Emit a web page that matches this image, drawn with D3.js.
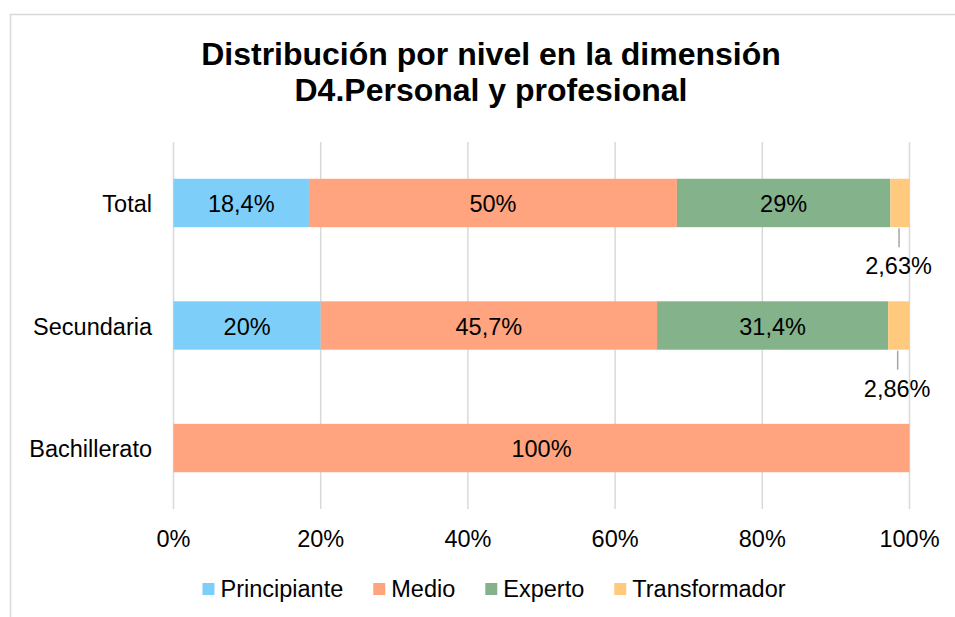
<!DOCTYPE html>
<html>
<head>
<meta charset="utf-8">
<script src="https://cdn.jsdelivr.net/npm/d3@7"></script>
<style>
  body { margin: 0; background: #fff; }
  svg { display: block; font-family: "Liberation Sans", Arial, sans-serif; }
</style>
</head>
<body>
<svg width="955" height="617"></svg>
<script>
const categories = ['Total', 'Secundaria', 'Bachillerato'];
const levels = ['Principiante', 'Medio', 'Experto', 'Transformador'];
const principiante = [18.4, 20, 0];
const medio = [50, 45.7, 100];
const experto = [29, 31.4, 0];
const transformador = [2.63, 2.86, 0];
const valueLabels = [
  ['18,4%', '50%', '29%', '2,63%'],
  ['20%', '45,7%', '31,4%', '2,86%'],
  ['', '100%', '', '']
];
const ticks = [0, 20, 40, 60, 80, 100];
const colors = ['#7dcff9', '#ffa47e', '#84b28b', '#ffca7e'];
const fs = 23.5;

const svg = d3.select('svg');

// chart frame (runs off the right and bottom edge in the reference)
svg.append('rect')
  .attr('x', 10.5).attr('y', 14.5)
  .attr('width', 1000).attr('height', 700)
  .attr('fill', '#fff')
  .attr('stroke', '#d9d9d9')
  .attr('stroke-width', 1.5);

svg.append('text')
  .attr('x', 491).attr('y', 65)
  .attr('text-anchor', 'middle')
  .attr('font-size', 32).attr('font-weight', 'bold')
  .text('Distribución por nivel en la dimensión');
svg.append('text')
  .attr('x', 491).attr('y', 101)
  .attr('text-anchor', 'middle')
  .attr('font-size', 32).attr('font-weight', 'bold')
  .text('D4.Personal y profesional');

const x = d3.scaleLinear().domain([0, 100]).range([173.5, 909.5]);
const y = d3.scaleBand().domain(categories).range([142, 509]).paddingInner(0.605).paddingOuter(0.3);

svg.append('g')
  .selectAll('line')
  .data(ticks)
  .join('line')
  .attr('x1', d => x(d)).attr('x2', d => x(d))
  .attr('y1', 142).attr('y2', 509)
  .attr('stroke', '#d9d9d9')
  .attr('stroke-width', 1.5);

const rows = categories.map((c, i) => {
  const vals = [principiante[i], medio[i], experto[i], transformador[i]];
  let acc = 0;
  return vals.map((v, j) => {
    const s = { cat: c, level: j, x0: acc, x1: acc + v, label: valueLabels[i][j] };
    acc += v;
    return s;
  });
});
const segs = rows.flat().filter(d => d.x1 > d.x0);

svg.append('g')
  .selectAll('rect')
  .data(segs)
  .join('rect')
  .attr('x', d => x(d.x0))
  .attr('y', d => y(d.cat))
  .attr('width', d => x(Math.min(d.x1, 100)) - x(d.x0))
  .attr('height', y.bandwidth())
  .attr('fill', d => colors[d.level]);

// labels inside bars
svg.append('g')
  .selectAll('text')
  .data(segs.filter(d => d.x1 - d.x0 > 5))
  .join('text')
  .attr('x', d => x((d.x0 + d.x1) / 2))
  .attr('y', d => y(d.cat) + y.bandwidth() / 2 + 9)
  .attr('text-anchor', 'middle')
  .attr('font-size', fs)
  .text(d => d.label);

// small segments: label below with leader line
const small = segs.filter(d => d.x1 - d.x0 <= 5);
svg.append('g')
  .selectAll('line')
  .data(small)
  .join('line')
  .attr('x1', d => x((d.x0 + d.x1) / 2) - 1)
  .attr('x2', d => x((d.x0 + d.x1) / 2) - 1)
  .attr('y1', d => y(d.cat) + y.bandwidth() + 1)
  .attr('y2', d => y(d.cat) + y.bandwidth() + 20)
  .attr('stroke', '#a6a6a6')
  .attr('stroke-width', 1.5);
svg.append('g')
  .selectAll('text')
  .data(small)
  .join('text')
  .attr('x', d => x((d.x0 + d.x1) / 2) - 1.5)
  .attr('y', d => y(d.cat) + y.bandwidth() + 47)
  .attr('text-anchor', 'middle')
  .attr('font-size', fs)
  .text(d => d.label);

// category axis
svg.append('g')
  .selectAll('text')
  .data(categories)
  .join('text')
  .attr('x', 152)
  .attr('y', d => y(d) + y.bandwidth() / 2 + 9)
  .attr('text-anchor', 'end')
  .attr('font-size', fs)
  .text(d => d);

// value axis
svg.append('g')
  .selectAll('text')
  .data(ticks)
  .join('text')
  .attr('x', d => x(d))
  .attr('y', 547)
  .attr('text-anchor', 'middle')
  .attr('font-size', fs)
  .text(d => d + '%');

// legend
const legend = svg.append('g');
let lx = 0;
const items = [];
levels.forEach((name, i) => {
  const g = legend.append('g');
  g.append('rect').attr('x', 0).attr('y', -14).attr('width', 12).attr('height', 12).attr('fill', colors[i]);
  const t = g.append('text').attr('x', 18).attr('y', 0).attr('font-size', fs).text(name);
  const w = 18 + t.node().getComputedTextLength();
  items.push({ g, x: lx });
  lx += w + 30;
});
const totalW = lx - 30;
const startX = 494 - totalW / 2;
items.forEach(it => it.g.attr('transform', `translate(${startX + it.x},597)`));
</script>
</body>
</html>
